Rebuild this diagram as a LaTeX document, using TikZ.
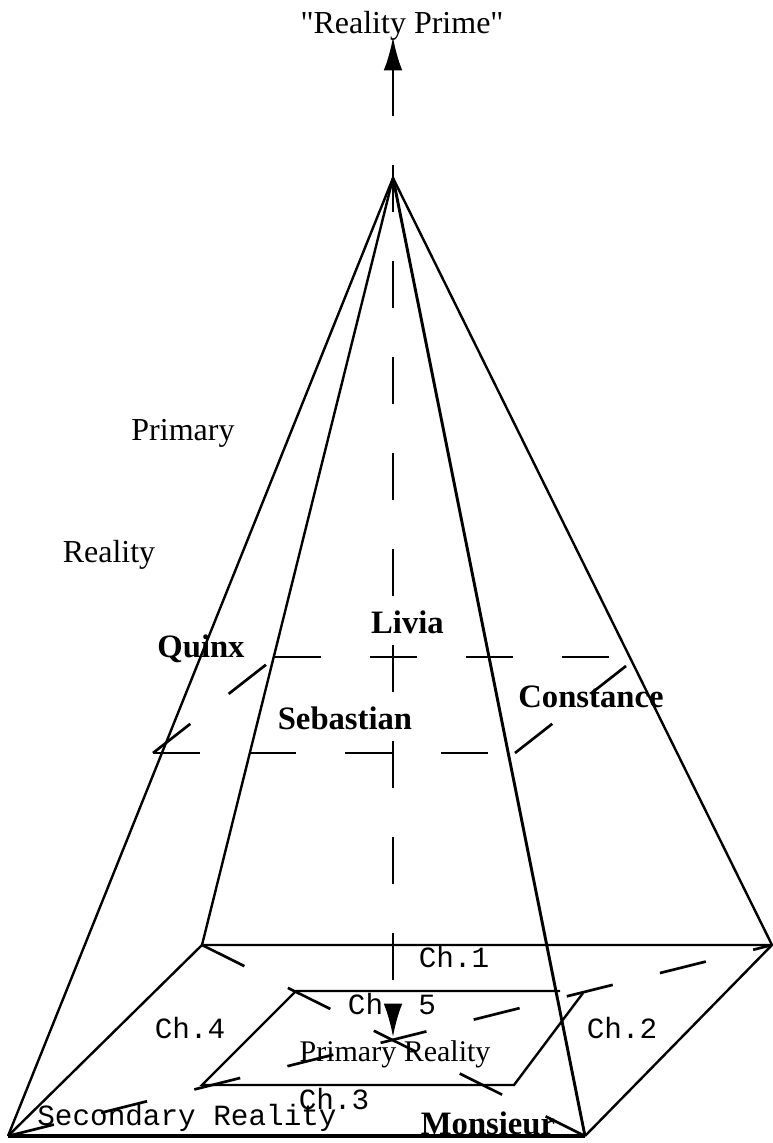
\documentclass[tikz,border=0pt]{standalone}
\usepackage{fontspec}
\setmainfont[Ligatures=TeXOff]{Liberation Serif}
\setmonofont{Liberation Mono}
\usetikzlibrary{arrows.meta}

\begin{document}
\begin{tikzpicture}[
  x=0.75pt, y=-0.75pt,
  edge/.style={line width=1.8pt},
  hidden/.style={line width=2pt, dash pattern=on 35.5pt off 36.5pt},
  plain/.style={anchor=base, inner sep=0pt, font=\fontsize{24}{28}\selectfont},
  who/.style={anchor=base, inner sep=0pt, font=\fontsize{24.5}{28}\selectfont\bfseries},
  chapter/.style={anchor=base, inner sep=0pt, font=\fontsize{22}{26}\selectfont\ttfamily},
]
\useasboundingbox (0,0) rectangle (772,1143);

% --- Pyramid corners ---
\coordinate (apex) at (393,178);
\coordinate (baseFL) at (8,1136);
\coordinate (baseFR) at (585,1136);
\coordinate (baseBR) at (772,945);
\coordinate (baseBL) at (202,945);
\coordinate (skyTip) at (393,37);
\coordinate (floorTip) at (393,1037);

% --- Inner floor corners ---
\coordinate (innerBL) at (296,991);
\coordinate (innerEnd) at (560,991);
\coordinate (innerBR) at (583,993);
\coordinate (innerFR) at (514,1085);
\coordinate (innerFL) at (202,1085);

% --- Section corners ---
\coordinate (midFL) at (153,753);
\coordinate (midFR) at (515,753);
\coordinate (midBR) at (626,666);
\coordinate (midBRtop) at (626,657);
\coordinate (midBL) at (274,657);
\coordinate (midBLlow) at (272,660);

% --- Labels ---
\node[plain] (prime) at (402,33) {"Reality Prime"};
\node[plain] (primary) at (183,440) {Primary};
\node[plain] (reality) at (109,562) {Reality};
\node[who] (quinx) at (201,657) {Quinx};
\node[who] (livia) at (407.5,633) {Livia};
\node[who] (sebastian) at (345,729) {Sebastian};
\node[who] (constance) at (591,707) {Constance};
\node[who] (monsieur) at (488,1134) {Monsieur};
\node[chapter] (ch1) at (454,967) {Ch.1};
\node[chapter] (ch2) at (622,1038) {Ch.2};
\node[chapter] (ch3) at (334,1109) {Ch.3};
\node[chapter] (ch4) at (190,1038) {Ch.4};
\node[chapter] (ch5) at (392,1014) {Ch. 5};
\node[chapter] (secondary) at (187,1125) {Secondary Reality};
\node[anchor=base, inner sep=0pt, font=\fontsize{22.5}{26}\selectfont] (innerLabel) at (395,1061) {Primary Reality};

% --- Pyramid ---
\draw[edge] (apex) -- (baseFL);
\draw[edge] (apex) -- (baseBL);
\draw[edge, line width=2.2pt] (apex) -- (baseFR);
\draw[edge] (apex) -- (baseBR);
\draw[edge] (baseBL) -- (baseBR) -- (baseFR);
\draw[edge, line width=2.6pt] (baseFR) -- (baseFL);
\draw[edge] (baseFL) -- (baseBL);

% --- Inner floor ---
\draw[edge] (innerEnd) -- (innerBL) -- (innerFL) -- (innerFR) -- (innerBR);

% --- Hidden lines ---
\draw[hidden] (baseFL) -- (baseBR);
\draw[hidden] (baseBL) -- (baseFR);
\draw[hidden] (midFL) -- (midFR);
\draw[hidden] (midBL) -- (midBRtop);
\draw[hidden] (midFL) -- (midBLlow);
\draw[hidden] (midFR) -- (midBR);
\draw[hidden, {Latex[length=25pt,width=14pt]}-{Latex[length=25pt,width=14pt]}] (skyTip) -- (floorTip);

\end{tikzpicture}
\end{document}
